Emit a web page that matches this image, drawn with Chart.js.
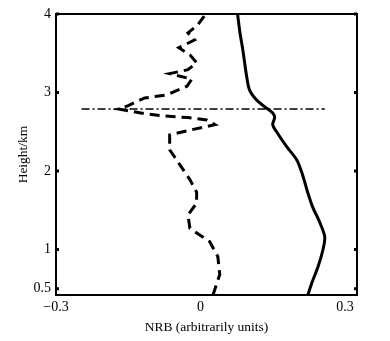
<!DOCTYPE html>
<html>
<head>
<meta charset="utf-8">
<script src="https://cdn.jsdelivr.net/npm/chart.js@4"></script>
<style>
  html, body { margin: 0; padding: 0; background: #fff; }
  #wrap { width: 390px; height: 341px; }
</style>
</head>
<body>
<div id="wrap"><canvas id="nrb-chart" width="390" height="341"></canvas></div>
<script>
// heights in km
const solidHeight = [0.42, 0.57, 0.78, 0.99, 1.16, 1.34, 1.54, 1.72, 1.95, 2.14, 2.31, 2.50, 2.59, 2.68, 2.74, 2.82, 2.90, 3.03, 3.20, 3.54, 3.76, 4.0];
const solidNrb = [0.223, 0.231, 0.244, 0.254, 0.258, 0.248, 0.233, 0.223, 0.212, 0.200, 0.179, 0.158, 0.150, 0.154, 0.150, 0.133, 0.117, 0.102, 0.096, 0.088, 0.082, 0.077];

const dashHeight = [0.42, 0.68, 0.91, 1.10, 1.27, 1.44, 1.59, 1.73, 1.89, 2.08, 2.27, 2.46, 2.52, 2.59, 2.65, 2.68, 2.70, 2.73, 2.79, 2.83, 2.93, 2.97, 3.08, 3.17, 3.24, 3.29, 3.38, 3.48, 3.57, 3.67, 3.76, 3.86, 4.0];
const dashNrb = [0.026, 0.040, 0.036, 0.019, -0.022, -0.026, -0.008, -0.008, -0.022, -0.043, -0.064, -0.064, -0.022, 0.030, 0.013, -0.026, -0.074, -0.116, -0.170, -0.151, -0.116, -0.070, -0.028, -0.018, -0.064, -0.026, -0.008, -0.022, -0.045, -0.012, -0.026, -0.006, 0.011];

// cloud base marker
const markHeight = [2.79, 2.79];
const markNrb = [-0.247, 0.258];

const xTicks = [-0.3, 0, 0.3];
const yTicks = [0.5, 1, 2, 3, 4];

function toPoints(xs, ys) {
    return xs.map((x, i) => ({ x: x, y: ys[i] }));
}

const serif = '"Liberation Serif", "DejaVu Serif", serif';

// frame around the plot area plus short inward tick marks
const framePlugin = {
    id: 'frame',
    afterDraw(chart) {
        const { ctx, chartArea: a, scales } = chart;
        ctx.save();
        ctx.strokeStyle = '#000';
        ctx.lineWidth = 2;
        ctx.strokeRect(a.left, a.top, a.right - a.left, a.bottom - a.top);
        ctx.lineWidth = 3;
        yTicks.forEach(v => {
            const py = scales.y.getPixelForValue(v);
            ctx.beginPath();
            ctx.moveTo(a.left, py);
            ctx.lineTo(a.left + 3, py);
            ctx.moveTo(a.right, py);
            ctx.lineTo(a.right - 3, py);
            ctx.stroke();
        });
        ctx.restore();
    }
};

const chart = new Chart(document.getElementById('nrb-chart').getContext('2d'), {
    type: 'scatter',
    data: {
        datasets: [{
            label: 'dashed',
            data: toPoints(dashNrb, dashHeight),
            showLine: true,
            borderColor: '#000',
            borderWidth: 3,
            borderDash: [10, 6],
            pointRadius: 0,
            tension: 0
        }, {
            label: 'solid',
            data: toPoints(solidNrb, solidHeight),
            showLine: true,
            borderColor: '#000',
            borderWidth: 3,
            pointRadius: 0,
            tension: 0.3
        }, {
            label: 'mark',
            data: toPoints(markNrb, markHeight),
            showLine: true,
            borderColor: '#000',
            borderWidth: 1.6,
            borderDash: [8, 3, 2, 3],
            pointRadius: 0
        }]
    },
    options: {
        responsive: false,
        animation: false,
        layout: { padding: { top: 14, right: 33, left: 0, bottom: 0 } },
        plugins: { legend: { display: false }, tooltip: { enabled: false } },
        scales: {
            x: {
                type: 'linear',
                min: -0.3,
                max: 0.325,
                afterBuildTicks: s => { s.ticks = xTicks.map(v => ({ value: v })); },
                afterFit: s => { s.height = 46; },
                grid: { display: false, drawTicks: false },
                border: { display: false },
                ticks: {
                    color: '#000',
                    padding: 4,
                    font: { family: serif, size: 14 },
                    callback: v => v === 0 ? '0' : (v < 0 ? '\u2212' + Math.abs(v) : String(v))
                },
                title: {
                    display: true,
                    text: 'NRB (arbitrarily units)',
                    color: '#000',
                    font: { family: serif, size: 13.5 },
                    padding: { top: 0, bottom: 5 }
                }
            },
            y: {
                type: 'linear',
                min: 0.42,
                max: 4,
                afterBuildTicks: s => { s.ticks = yTicks.map(v => ({ value: v })); },
                afterFit: s => { s.width = 56; },
                grid: { display: false, drawTicks: false },
                border: { display: false },
                ticks: {
                    color: '#000',
                    padding: 5,
                    font: { family: serif, size: 14 },
                    callback: v => String(v)
                },
                title: {
                    display: true,
                    text: 'Height/km',
                    color: '#000',
                    font: { family: serif, size: 13.5 },
                    padding: { top: 15, bottom: 0 }
                }
            }
        }
    },
    plugins: [framePlugin]
});
</script>
</body>
</html>
